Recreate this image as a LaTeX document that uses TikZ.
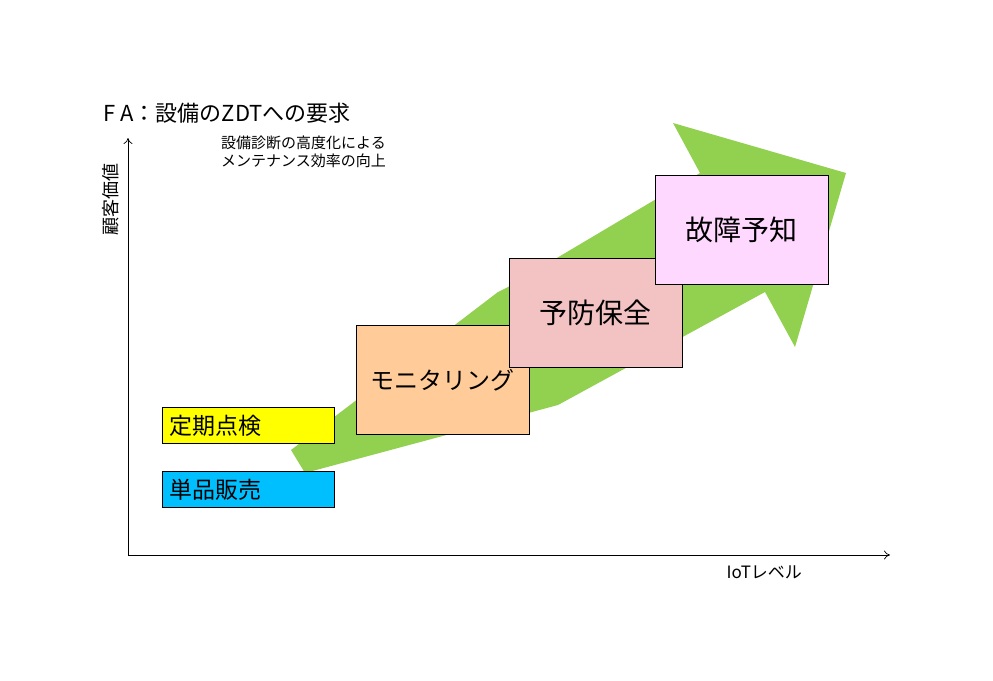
\documentclass[tikz,border=0pt]{standalone}
\usepackage{fontspec}
\setmainfont{Noto Sans CJK JP}
\usetikzlibrary{arrows.meta}
\definecolor{flowgreen}{HTML}{92D050}
\definecolor{boxcyan}{HTML}{00BFFF}
\definecolor{boxyellow}{HTML}{FFFF00}
\definecolor{boxpeach}{HTML}{FFCC99}
\definecolor{boxrose}{HTML}{F3C3C3}
\definecolor{boxlilac}{HTML}{FFD8FF}
\newcommand{\fs}[1]{\fontsize{#1pt}{#1pt}\selectfont}

\begin{document}
\begin{tikzpicture}[x=1pt,y=-1pt,>={To[length=6pt,width=9pt]},
  lvl/.style={draw,line width=0.9pt,anchor=north west,minimum width=172pt,minimum height=36pt,
    text width=158pt,inner xsep=7pt,align=left,font=\fs{23}},
  stage/.style={draw,line width=0.9pt,anchor=north west,minimum width=173pt,minimum height=109pt,
    align=center,font=\fs{28}}]
  \useasboundingbox (0,0) rectangle (993,680);
  % growth arrow
  \fill[flowgreen] (291,450) -- (498,292) -- (508,287) -- (700,173) -- (673,123) -- (846,173)
    -- (795,347) -- (765,292) -- (558,405) -- (305,473) -- cycle;
  % axes
  \coordinate (org) at (128,555);
  \coordinate (ytop) at (128,138);
  \coordinate (xend) at (890,555);
  \draw[->,line width=0.7pt] (org) -- (ytop);
  \draw[->,line width=0.7pt] (org) -- (xend);
  \node[rotate=90,font=\fs{18}] (yl) at (111,199) {顧客価値};
  \node[anchor=west,font=\fs{17}] (xl) at (723,572) {IoTレベル};
  \node[anchor=west,font=\fs{22}] (title) at (100,113) {F A：設備のZDTへの要求};
  \node[anchor=north west,align=left,font=\fs{15},inner sep=0pt] (note) at (221,136)
    {設備診断の高度化による\\[3pt]メンテナンス効率の向上};
  % levels
  \node[lvl,fill=boxcyan] (sale) at (162,471) {単品販売};
  \node[lvl,fill=boxyellow] (insp) at (162,407) {定期点検};
  \node[stage,fill=boxpeach,font=\fs{24}] (mon) at (356,325) {モニタリング};
  \node[stage,fill=boxrose] (prev) at (509,258) {予防保全};
  \node[stage,fill=boxlilac] (pred) at (655,175) {故障予知};
\end{tikzpicture}
\end{document}
